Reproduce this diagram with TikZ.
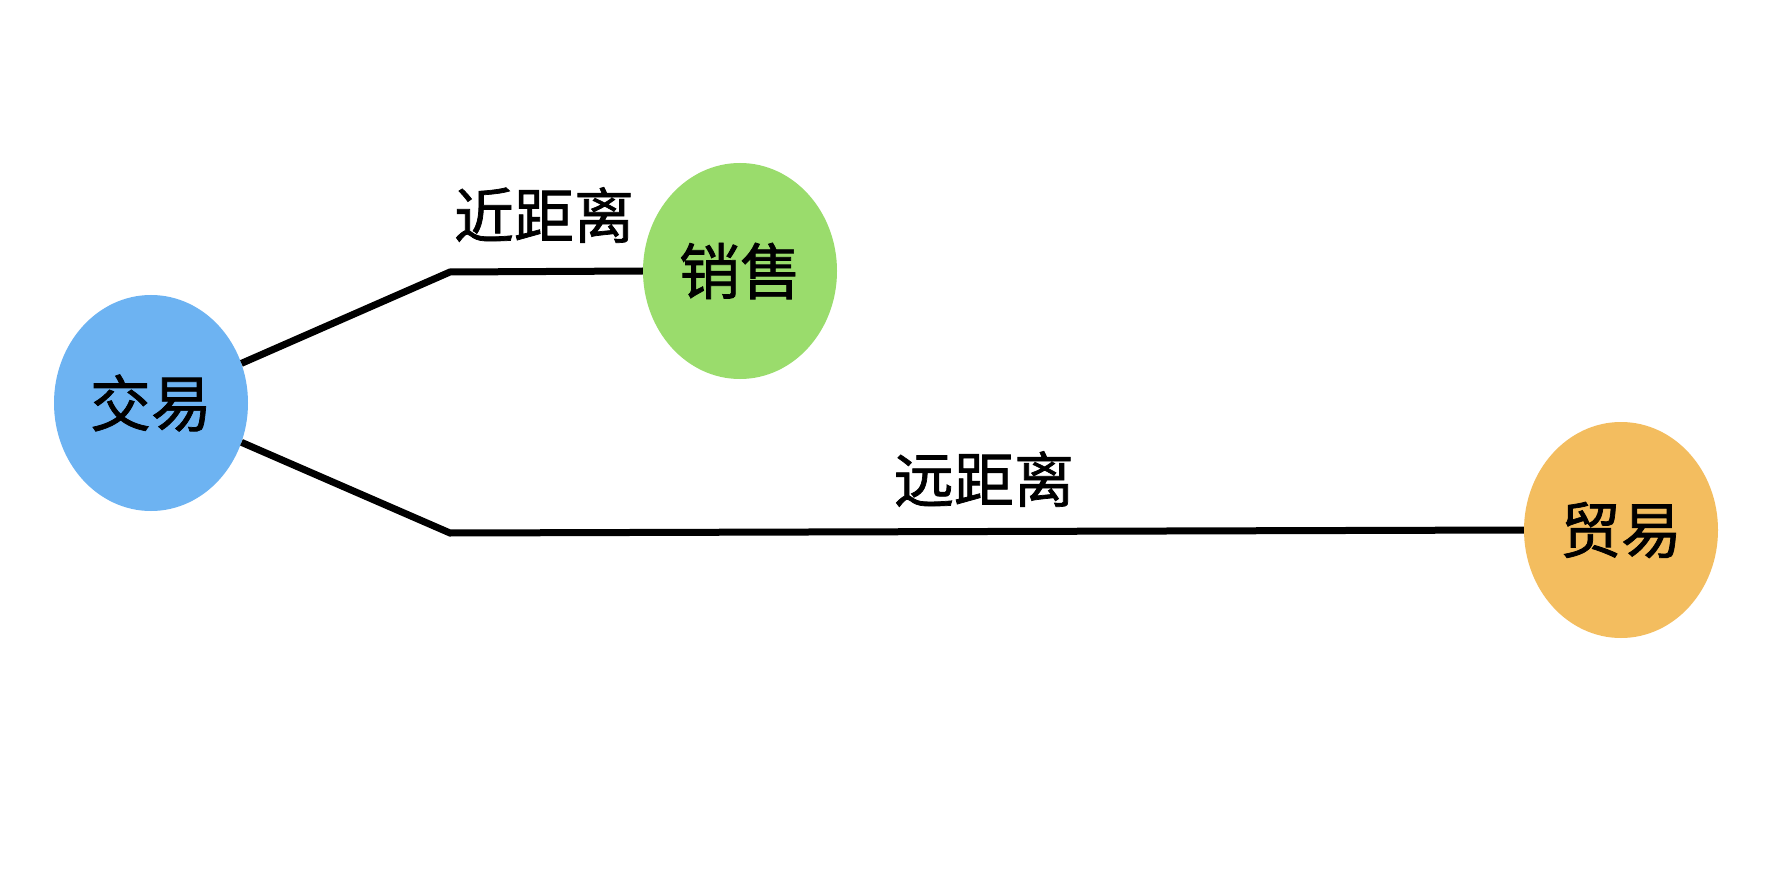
\documentclass[tikz,border=0pt]{standalone}
\usepackage{fontspec}
\newfontfamily\cjk[FakeBold=1.2]{Noto Sans CJK SC}
\usetikzlibrary{shapes.geometric}
\definecolor{cblue}{HTML}{6DB3F2}
\definecolor{cgreen}{HTML}{9ADC6C}
\definecolor{corange}{HTML}{F3BD5F}
\tikzset{
  bubble/.style={ellipse, inner sep=0pt, minimum width=194pt, minimum height=216pt, font=\cjk\fontsize{61}{64}\selectfont, text=black},
  link/.style={line width=7pt, draw=black, line join=miter},
  lbl/.style={font=\cjk\fontsize{60}{64}\selectfont, text=black, inner sep=0pt}
}
\begin{document}
\begin{tikzpicture}[x=1pt,y=-1pt]
\fill[white] (0,0) rectangle (1778,885);
\useasboundingbox (0,0) rectangle (1778,885);
\node[bubble, fill=cblue] (jy) at (151,403) {交易};
\node[bubble, fill=cgreen] (xs) at (740,271) {销售};
\node[bubble, fill=corange] (my) at (1621,530) {贸易};
\coordinate (b1) at (450,272);
\coordinate (b2) at (450,533);
\draw[link] (jy) -- (b1) -- (xs.west);
\draw[link] (jy) -- (b2) -- (my.west);
\node[lbl] (l1) at (544,215) {近距离};
\node[lbl] (l2) at (984,479) {远距离};
\end{tikzpicture}
\end{document}
